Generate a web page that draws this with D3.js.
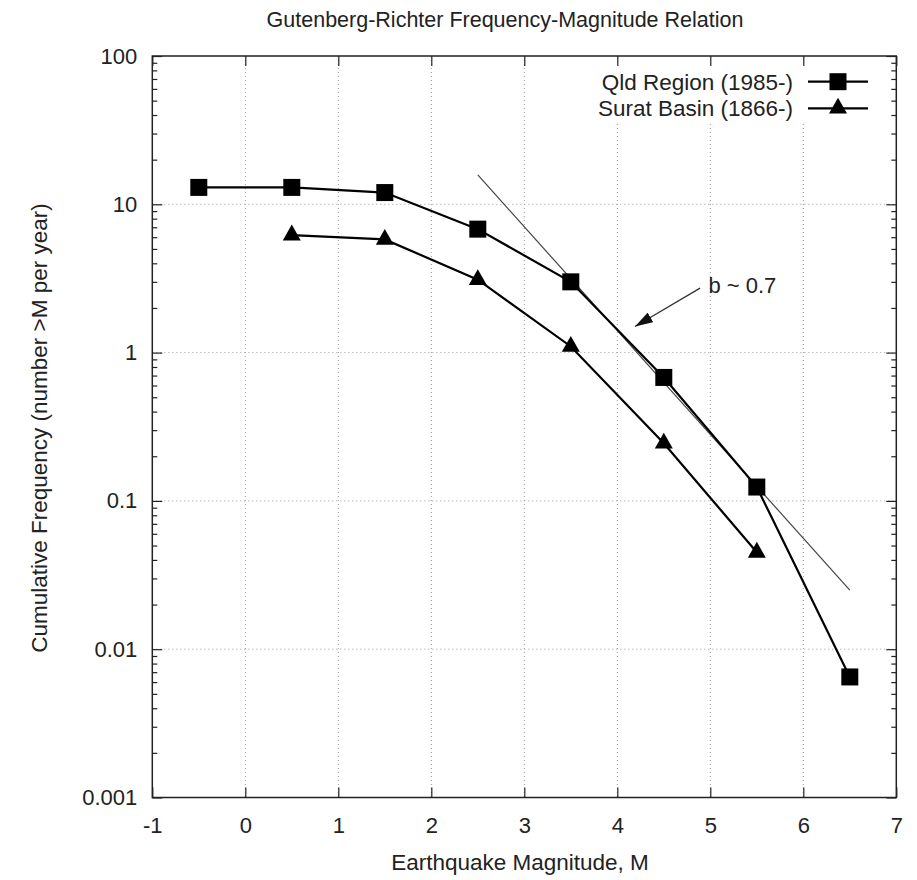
<!DOCTYPE html>
<html>
<head>
<meta charset="utf-8">
<script src="https://cdn.jsdelivr.net/npm/d3@7"></script>
<style>
  body { margin: 0; background: #fff; }
  svg { display: block; font-family: "Liberation Sans", Arial, sans-serif; }
</style>
</head>
<body>
<div id="chart"></div>
<script>
// data -------------------------------------------------------------------------
const qldMag = [-0.5, 0.5, 1.5, 2.5, 3.5, 4.5, 5.5, 6.5];
const qldFreq = [13, 13, 12, 6.8, 3.0, 0.68, 0.124, 0.0065];
const suratMag = [0.5, 1.5, 2.5, 3.5, 4.5, 5.5];
const suratFreq = [6.2, 5.8, 3.1, 1.1, 0.245, 0.045];
// b ~ 0.7 reference line (end points)
const fitMag = [2.5, 6.5];
const fitFreq = [15.8, 0.025];
// arrow pointing at the line
const arrowFrom = [4.89, 2.72];
const arrowTo = [4.19, 1.5];
const noteAt = [4.98, 2.86];
const noteText = 'b ~ 0.7';

const xTicks = [-1, 0, 1, 2, 3, 4, 5, 6, 7];
const yTicks = [0.001, 0.01, 0.1, 1, 10, 100];
const yTickLabels = ['0.001', '0.01', '0.1', '1', '10', '100'];
const seriesNames = ['Qld Region (1985-)', 'Surat Basin (1866-)'];

const title = 'Gutenberg-Richter Frequency-Magnitude Relation';
const xTitle = 'Earthquake Magnitude, M';
const yTitle = 'Cumulative Frequency (number >M per year)';

// svg -----------------------------------------------------------------------------
const width = 917, height = 880;
const plot = { left: 152.3, right: 896.3, top: 56, bottom: 797.5 };

const svg = d3.select('#chart').append('svg')
  .attr('width', width)
  .attr('height', height);

const xScale = d3.scaleLinear().domain([-1, 7]).range([plot.left, plot.right]);
const yScale = d3.scaleLog().domain([0.001, 100]).range([plot.bottom, plot.top]);

// minor tick positions for the log axis
const yMinor = [];
yTicks.slice(0, -1).forEach(d => { for (let k = 2; k < 10; k++) yMinor.push(d * k); });

// grid ----------------------------------------------------------------------------
const grid = svg.append('g')
  .attr('stroke', '#9a9a9a')
  .attr('stroke-width', 1)
  .attr('stroke-dasharray', '1,3');
grid.selectAll('.gx').data(xTicks.slice(1, -1)).enter().append('line')
  .attr('x1', d => xScale(d)).attr('x2', d => xScale(d))
  .attr('y1', plot.top).attr('y2', plot.bottom);
grid.selectAll('.gy').data(yTicks.slice(1, -1)).enter().append('line')
  .attr('x1', plot.left).attr('x2', plot.right)
  .attr('y1', d => yScale(d)).attr('y2', d => yScale(d));

// legend background hides the grid under the key
svg.append('rect')
  .attr('x', 592).attr('y', plot.top + 1)
  .attr('width', 290).attr('height', 64)
  .attr('fill', '#fff');

// axes ----------------------------------------------------------------------------
const tickFont = '22px';
const axisColor = '#222';

const styleAxis = g => {
  g.select('.domain').remove();
  g.selectAll('.tick line').attr('stroke', axisColor).attr('stroke-width', 1.2);
  g.selectAll('.tick text').attr('fill', '#222').attr('font-size', tickFont)
    .attr('font-family', '"Liberation Sans", Arial, sans-serif');
};

svg.append('g')
  .attr('transform', 'translate(' + plot.left + ',0)')
  .call(d3.axisLeft(yScale).tickValues(yTicks)
    .tickFormat((d, i) => yTickLabels[i]).tickSize(-10).tickPadding(15))
  .call(styleAxis);
svg.append('g')
  .attr('transform', 'translate(' + plot.left + ',0)')
  .call(d3.axisLeft(yScale).tickValues(yMinor).tickFormat('').tickSize(-5))
  .call(styleAxis);
svg.append('g')
  .attr('transform', 'translate(' + plot.right + ',0)')
  .call(d3.axisRight(yScale).tickValues(yTicks).tickFormat('').tickSize(-10))
  .call(styleAxis);
svg.append('g')
  .attr('transform', 'translate(' + plot.right + ',0)')
  .call(d3.axisRight(yScale).tickValues(yMinor).tickFormat('').tickSize(-5))
  .call(styleAxis);

svg.append('g')
  .attr('transform', 'translate(0,' + plot.bottom + ')')
  .call(d3.axisBottom(xScale).tickValues(xTicks).tickFormat(d => String(d)).tickSize(-10).tickPadding(20))
  .call(styleAxis);
svg.append('g')
  .attr('transform', 'translate(0,' + plot.top + ')')
  .call(d3.axisTop(xScale).tickValues(xTicks).tickFormat('').tickSize(-10))
  .call(styleAxis);

// frame
svg.append('rect')
  .attr('x', plot.left).attr('y', plot.top)
  .attr('width', plot.right - plot.left).attr('height', plot.bottom - plot.top)
  .attr('fill', 'none').attr('stroke', axisColor).attr('stroke-width', 1.5);

// fit line + arrow ----------------------------------------------------------------
const line = d3.line().x(d => xScale(d[0])).y(d => yScale(d[1]));

svg.append('path')
  .datum(d3.zip(fitMag, fitFreq))
  .attr('d', line)
  .attr('fill', 'none').attr('stroke', '#444').attr('stroke-width', 1.2);

svg.append('defs').append('marker')
  .attr('id', 'head')
  .attr('viewBox', '0 0 10 10')
  .attr('preserveAspectRatio', 'none')
  .attr('refX', 10).attr('refY', 5)
  .attr('markerUnits', 'userSpaceOnUse')
  .attr('markerWidth', 18).attr('markerHeight', 11)
  .attr('orient', 'auto')
  .append('path').attr('d', 'M0,0 L10,5 L0,10 Z').attr('fill', '#111');

svg.append('line')
  .attr('x1', xScale(arrowFrom[0])).attr('y1', yScale(arrowFrom[1]))
  .attr('x2', xScale(arrowTo[0])).attr('y2', yScale(arrowTo[1]))
  .attr('stroke', '#333').attr('stroke-width', 1.3)
  .attr('marker-end', 'url(#head)');

svg.append('text')
  .attr('x', xScale(noteAt[0])).attr('y', yScale(noteAt[1]))
  .attr('dy', '0.35em')
  .attr('font-size', '22px').attr('fill', '#222')
  .text(noteText);

// series --------------------------------------------------------------------------
const squarePath = 'M-8.5,-8.5 H8.5 V8.5 H-8.5 Z';
const trianglePath = 'M0,-10.5 L9,5.3 L-9,5.3 Z';

const drawSeries = (mags, freqs, shape) => {
  const pts = d3.zip(mags, freqs);
  svg.append('path')
    .datum(pts)
    .attr('d', line)
    .attr('fill', 'none').attr('stroke', '#000').attr('stroke-width', 2.2);
  svg.append('g').selectAll('path').data(pts).enter().append('path')
    .attr('transform', d => 'translate(' + xScale(d[0]) + ',' + yScale(d[1]) + ')')
    .attr('d', shape)
    .attr('fill', '#000');
};
drawSeries(qldMag, qldFreq, squarePath);
drawSeries(suratMag, suratFreq, trianglePath);

// legend --------------------------------------------------------------------------
const legendRows = [
  { name: seriesNames[0], shape: squarePath, y: 81.7 },
  { name: seriesNames[1], shape: trianglePath, y: 108.3 }
];
const lg = svg.append('g').selectAll('g').data(legendRows).enter().append('g')
  .attr('transform', d => 'translate(0,' + d.y + ')');
lg.append('text')
  .attr('x', 793).attr('dy', '0.36em')
  .attr('text-anchor', 'end')
  .attr('font-size', '22.5px').attr('fill', '#222')
  .text(d => d.name);
lg.append('line')
  .attr('x1', 808).attr('x2', 868)
  .attr('stroke', '#000').attr('stroke-width', 2.2);
lg.append('path')
  .attr('transform', 'translate(838,0)')
  .attr('d', d => d.shape)
  .attr('fill', '#000');

// titles --------------------------------------------------------------------------
svg.append('text')
  .attr('x', 505).attr('y', 27)
  .attr('text-anchor', 'middle')
  .attr('font-size', '21.5px').attr('fill', '#222')
  .text(title);
svg.append('text')
  .attr('x', 520).attr('y', 870)
  .attr('text-anchor', 'middle')
  .attr('font-size', '22.5px').attr('fill', '#222')
  .text(xTitle);
svg.append('text')
  .attr('transform', 'translate(47,428) rotate(-90)')
  .attr('text-anchor', 'middle')
  .attr('font-size', '22.5px').attr('fill', '#222')
  .text(yTitle);
</script>
</body>
</html>
